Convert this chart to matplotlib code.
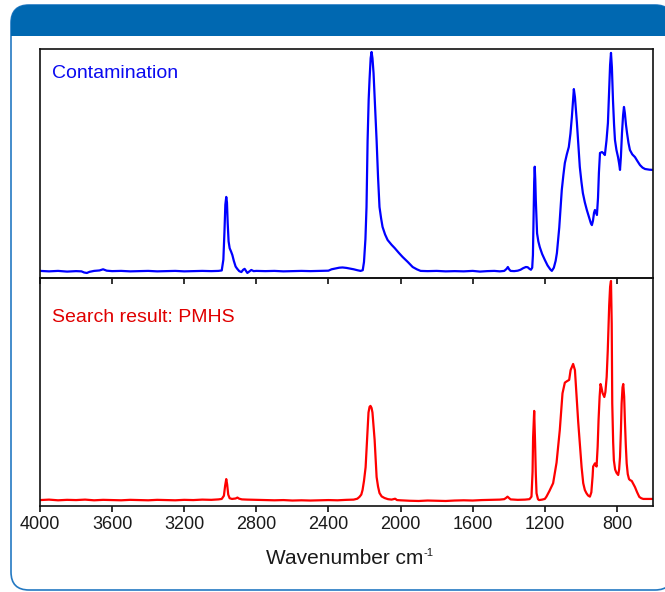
import matplotlib
matplotlib.use("Agg")
import matplotlib.pyplot as plt
import matplotlib.transforms as mtrans
from matplotlib.patches import FancyBboxPatch, Rectangle

plt.rcParams['font.family'] = ['Liberation Sans', 'DejaVu Sans']

# ---------------- data ----------------
wn_contam = [4000, 3950, 3900, 3850, 3800, 3770, 3755, 3740, 3725, 3700, 3670, 3650, 3630, 3600,
             3550, 3500, 3450, 3400, 3350, 3300, 3250, 3200, 3150, 3100, 3050, 3010, 2992, 2983,
             2977, 2972, 2967, 2963, 2959, 2954, 2948, 2940, 2933, 2925, 2915, 2906, 2895, 2883,
             2873, 2865, 2857, 2850, 2840, 2828, 2815, 2800, 2750, 2700, 2650, 2600, 2550, 2500,
             2450, 2400, 2383, 2360, 2340, 2322, 2300, 2280, 2260, 2240, 2222, 2210, 2203, 2195,
             2189, 2183, 2177, 2172, 2166, 2161, 2156, 2150, 2142, 2133, 2125, 2117, 2108, 2100,
             2086, 2072, 2050, 2033, 2010, 1989, 1960, 1933, 1910, 1889, 1850, 1800, 1750, 1700,
             1650, 1600, 1560, 1520, 1480, 1450, 1425, 1412, 1405, 1398, 1390, 1370, 1350, 1335,
             1320, 1305, 1295, 1285, 1277, 1270, 1266, 1263, 1259, 1256, 1253, 1250, 1246, 1243,
             1236, 1228, 1215, 1200, 1185, 1170, 1161, 1150, 1140, 1133, 1120, 1106, 1097, 1089,
             1078, 1067, 1058, 1050, 1044, 1039, 1033, 1027, 1022, 1014, 1006, 997, 989, 978,
             967, 955, 945, 939, 933, 927, 922, 916, 911, 905, 900, 894, 883, 875, 867, 858, 850,
             843, 838, 833, 828, 822, 816, 811, 803, 794, 788, 783, 778, 772, 766, 761, 756, 750,
             744, 736, 728, 715, 700, 686, 672, 658, 644, 620, 600]
abs_contam = [.031, .029, .031, .028, .030, .029, .024, .022, .027, .031, .033, .038, .032, .030,
              .031, .029, .030, .031, .029, .030, .031, .029, .030, .031, .030, .031, .033, .08,
              .20, .32, .354, .33, .24, .16, .13, .115, .10, .075, .05, .04, .030, .026,
              .036, .040, .030, .022, .028, .035, .030, .031, .030, .031, .029, .030, .031, .030,
              .031, .032, .038, .042, .045, .046, .044, .041, .038, .034, .031, .034, .07, .17,
              .31, .60, .78, .87, .96, .987, .96, .895, .76, .60, .44, .31, .26, .223,
              .19, .166, .145, .131, .11, .092, .07, .048, .038, .031, .030, .031, .029, .030,
              .029, .031, .028, .030, .031, .029, .031, .040, .048, .038, .031, .030, .032, .036,
              .043, .048, .047, .040, .036, .045, .10, .24, .42, .486, .43, .34, .25, .195,
              .16, .135, .105, .079, .055, .038, .031, .045, .075, .109, .22, .384, .45, .502,
              .54, .572, .63, .703, .77, .825, .79, .73, .677, .58, .485, .42, .371, .33,
              .297, .265, .24, .231, .25, .285, .297, .285, .275, .35, .46, .546, .55, .545, .537, .60, .677,
              .82, .93, .983, .92, .777, .67, .603, .56, .528, .50, .472, .53, .633, .71, .747, .72, .67,
              .633, .59, .559, .54, .528, .51, .493, .482, .476, .473, .472]

wn_pmhs = [4000, 3950, 3900, 3850, 3800, 3750, 3700, 3650, 3600, 3550, 3500, 3450, 3400, 3350,
           3300, 3250, 3200, 3150, 3100, 3050, 3010, 2992, 2980, 2973, 2967, 2962, 2956, 2948,
           2935, 2915, 2905, 2895, 2880, 2850, 2800, 2750, 2700, 2650, 2600, 2550, 2500, 2450,
           2400, 2350, 2300, 2260, 2240, 2228, 2218, 2211, 2203, 2194, 2188, 2183, 2178, 2172,
           2167, 2161, 2156, 2150, 2144, 2138, 2133, 2125, 2117, 2105, 2089, 2070, 2050, 2030,
           2020, 2000, 1950, 1900, 1850, 1800, 1750, 1700, 1650, 1600, 1550, 1500, 1450, 1425,
           1414, 1407, 1400, 1390, 1350, 1310, 1285, 1274, 1268, 1265, 1259, 1254, 1250, 1246,
           1238, 1232, 1215, 1200, 1191, 1175, 1154, 1135, 1117, 1102, 1089, 1076, 1065, 1057,
           1043, 1033, 1024, 1015, 1006, 996, 987, 978, 969, 960, 950, 942, 935, 932, 922, 913,
           907, 902, 896, 891, 886, 880, 870, 864, 857, 851, 846, 843, 838, 833, 829, 826, 821,
           817, 810, 802, 793, 788, 783, 778, 774, 769, 765, 760, 756, 751, 746, 740, 733, 726,
           718, 710, 700, 688, 676, 665, 654, 630, 600]
abs_pmhs = [.026, .028, .025, .027, .026, .028, .025, .027, .026, .025, .027, .026, .025, .027,
            .026, .025, .027, .026, .028, .027, .029, .031, .045, .09, .118, .095, .05, .034,
            .031, .033, .037, .032, .029, .028, .027, .026, .025, .026, .024, .025, .024, .025,
            .026, .025, .027, .028, .032, .04, .05, .07, .11, .17, .26, .333, .41, .435,
            .439, .43, .41, .35, .29, .20, .127, .085, .057, .042, .035, .030, .028, .032,
            .026, .025, .023, .022, .024, .023, .022, .024, .025, .024, .026, .027, .028, .030,
            .036, .041, .036, .029, .027, .028, .030, .041, .15, .30, .417, .276, .14, .056,
            .030, .026, .028, .031, .041, .065, .10, .19, .333, .494, .541, .548, .553, .596,
            .623, .596, .48, .37, .275, .17, .10, .07, .056, .046, .041, .06, .13, .173, .187, .173,
            .26, .377, .48, .535, .52, .496, .478, .50, .566, .68, .80, .88, .96, .987, .80, .45, .28,
            .20, .16, .145, .136, .16, .215, .33, .45, .52, .535, .48, .377, .27, .187, .14, .118, .113,
            .11, .098, .083, .06, .040, .034, .031, .031, .031]

x_ticks = [4000, 3600, 3200, 2800, 2400, 2000, 1600, 1200, 800]
x_tick_labels = ['4000', '3600', '3200', '2800', '2400', '2000', '1600', '1200', '800']
label_top = 'Contamination'
label_bottom = 'Search result: PMHS'
x_title = 'Wavenumber cm'
x_title_sup = '-1'

# ---------------- figure ----------------
W, H = 665, 592
fig = plt.figure(figsize=(W / 100, H / 100), dpi=100)
fig.patch.set_facecolor('white')
tr = mtrans.IdentityTransform()

frame = FancyBboxPatch((11, 2), 662, 585, boxstyle="round,pad=0,rounding_size=18",
                       transform=tr, facecolor='white', edgecolor='#2479C2', lw=1.2, zorder=-3)
fig.add_artist(frame)
header = Rectangle((0, H - 36), W + 20, 40, transform=tr, facecolor='#0068B1',
                   edgecolor='none', zorder=-2)
header.set_clip_path(frame)
fig.add_artist(header)

left, right = 40 / W, 653 / W
ax1 = fig.add_axes([left, 1 - 278 / H, right - left, (278 - 49) / H])
ax2 = fig.add_axes([left, 1 - 506 / H, right - left, (506 - 278) / H])

for ax in (ax1, ax2):
    ax.set_facecolor('none')
    ax.set_xlim(4000, 600)
    ax.set_ylim(0, 1)
    ax.set_yticks([])
    ax.set_xticks(x_ticks)
    for s in ax.spines.values():
        s.set_linewidth(1.2)
        s.set_color('#111111')

ax1.plot(wn_contam, abs_contam, color='#0000FF', lw=1.6, solid_joinstyle='round')
ax2.plot(wn_pmhs, abs_pmhs, color='#FF0000', lw=1.6, solid_joinstyle='round')

ax1.tick_params(axis='x', direction='out', length=4.5, width=1.2, color='#111111',
                labelbottom=False)
ax2.tick_params(axis='x', direction='out', length=4.5, width=1.2, color='#111111',
                labelsize=13, labelcolor='#1a1a1a', pad=3)
ax2.set_xticklabels(x_tick_labels)
ax1.set_zorder(2)
ax2.set_zorder(1)

fig.text(52, H - 78, label_top, transform=tr, color='#0A0AF0', fontsize=14, va='baseline')
fig.text(52, H - 322, label_bottom, transform=tr, color='#E00000', fontsize=14, va='baseline')
fig.text(423, H - 564, x_title, transform=tr, color='#1a1a1a', fontsize=15,
         ha='right', va='baseline')
fig.text(424, H - 556, x_title_sup, transform=tr, color='#1a1a1a', fontsize=8,
         ha='left', va='baseline')

fig.savefig('out.png', dpi=100)
